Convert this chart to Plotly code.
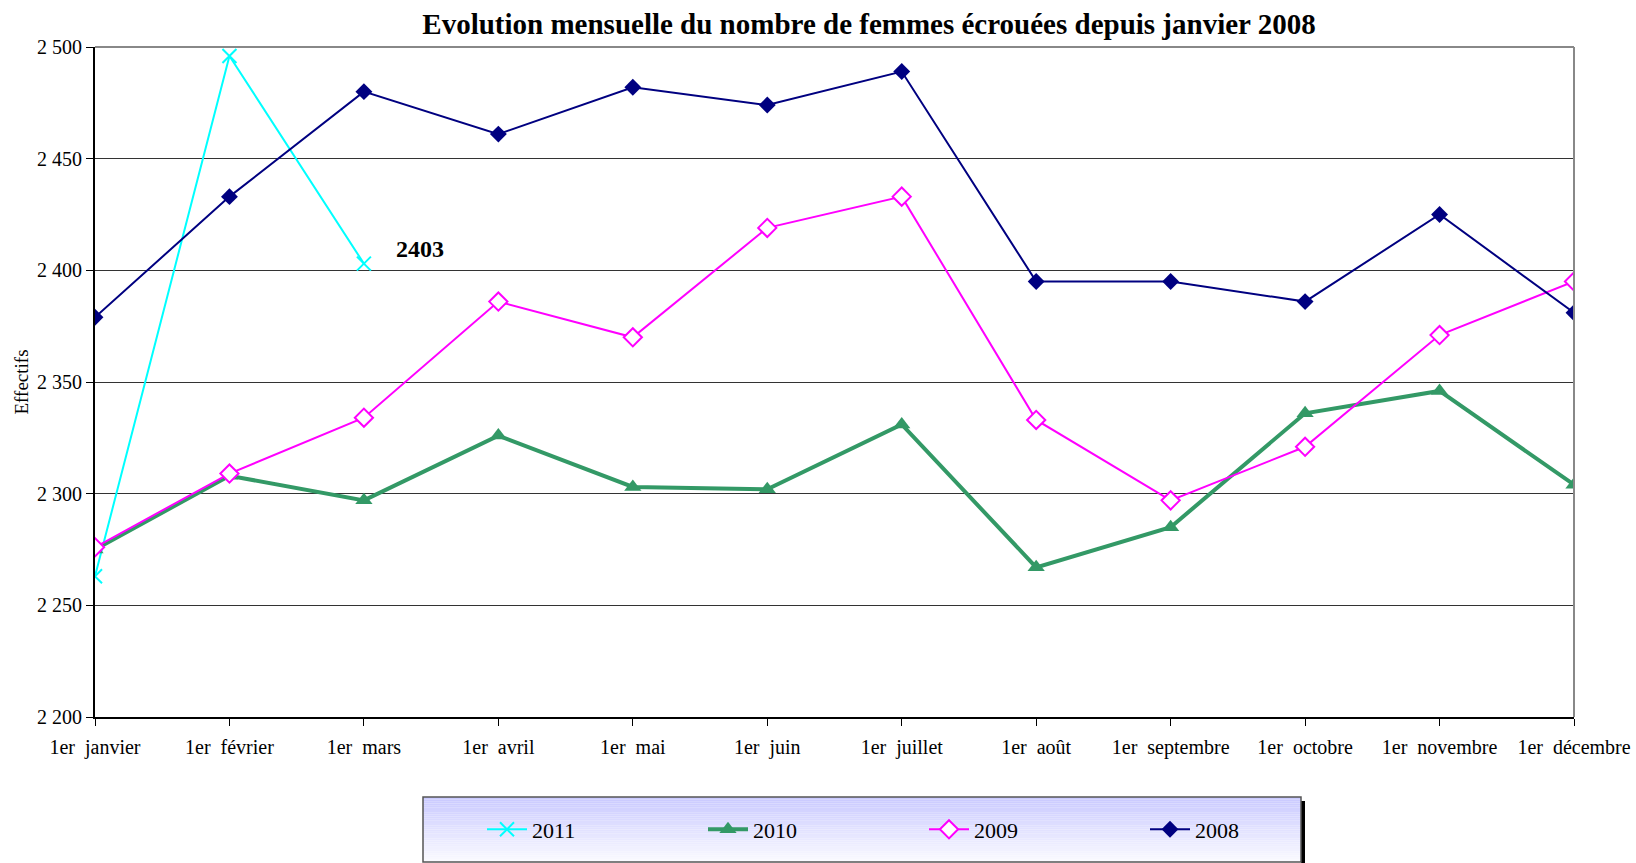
import plotly.graph_objects as go

months = ["1er\u00a0 janvier", "1er\u00a0 février", "1er\u00a0 mars", "1er\u00a0 avril", "1er\u00a0 mai",
          "1er\u00a0 juin", "1er\u00a0 juillet", "1er\u00a0 août", "1er\u00a0 septembre",
          "1er\u00a0 octobre", "1er\u00a0 novembre", "1er\u00a0 décembre"]
v2011 = [2263, 2496, 2403]
v2010 = [2275, 2308, 2297, 2326, 2303, 2302, 2331, 2267, 2285, 2336, 2346, 2304]
v2009 = [2276, 2309, 2334, 2386, 2370, 2419, 2433, 2333, 2297, 2321, 2371, 2395]
v2008 = [2379, 2433, 2480, 2461, 2482, 2474, 2489, 2395, 2395, 2386, 2425, 2381]
yticks = [2200, 2250, 2300, 2350, 2400, 2450, 2500]

FONT = "Liberation Serif, Times New Roman, serif"
L, R, T, B = 95, 62, 47, 146
PW = 1636 - L - R
PH = 863 - T - B

fig = go.Figure()
fig.add_trace(go.Scatter(x=months[:len(v2011)], y=v2011, name="2011", mode="lines+markers",
                         line=dict(color="#00FFFF", width=2),
                         marker=dict(symbol="x-thin", size=14, line=dict(color="#00FFFF", width=2))))
fig.add_trace(go.Scatter(x=months, y=v2010, name="2010", mode="lines+markers",
                         line=dict(color="#339966", width=4),
                         marker=dict(symbol="triangle-up", size=15, color="#339966")))
fig.add_trace(go.Scatter(x=months, y=v2009, name="2009", mode="lines+markers",
                         line=dict(color="#FF00FF", width=2),
                         marker=dict(symbol="diamond", size=14, color="white",
                                     line=dict(color="#FF00FF", width=2))))
fig.add_trace(go.Scatter(x=months, y=v2008, name="2008", mode="lines+markers",
                         line=dict(color="#000080", width=2),
                         marker=dict(symbol="diamond", size=13, color="#000080")))

def px(x):
    return (x - L) / PW

def py(y):
    return (863 - B - y) / PH

x0p, x1p = px(423), px(1301)
ytop, ybot = py(797), py(862)
shapes = []
shapes.append(dict(type="rect", xref="paper", yref="paper",
                   x0=x1p, x1=px(1305), y0=py(864), y1=py(801),
                   fillcolor="black", line=dict(width=0), layer="below"))
n = 30
for i in range(n):
    t = i / (n - 1)
    r = int(202 + (250 - 202) * t)
    g = int(202 + (250 - 202) * t)
    ya = ytop + (ybot - ytop) * i / n
    yb = ytop + (ybot - ytop) * (i + 1) / n
    shapes.append(dict(type="rect", xref="paper", yref="paper", x0=x0p, x1=x1p, y0=yb, y1=ya,
                       fillcolor=f"rgb({r},{g},255)", line=dict(width=0), layer="below"))
shapes.append(dict(type="rect", xref="paper", yref="paper", x0=x0p, x1=x1p, y0=ybot, y1=ytop,
                   line=dict(color="#555555", width=1.5), fillcolor="rgba(0,0,0,0)", layer="below"))
shapes.append(dict(type="line", xref="paper", yref="paper", x0=0, x1=1, y0=1, y1=1,
                   line=dict(color="#888888", width=2)))
shapes.append(dict(type="line", xref="paper", yref="paper", x0=1, x1=1, y0=0, y1=1,
                   line=dict(color="#888888", width=2)))

fig.update_layout(
    width=1636, height=863,
    margin=dict(l=L, r=R, t=T, b=B, autoexpand=False),
    paper_bgcolor="white", plot_bgcolor="white",
    separators=", ",
    font=dict(family=FONT, size=20, color="black"),
    title=dict(text="<b>Evolution mensuelle du nombre de femmes écrouées depuis janvier 2008</b>",
               x=(418 + 1320) / 2 / 1636, xanchor="center", y=1 - 24 / 863, yanchor="middle",
               font=dict(family=FONT, size=29, color="black")),
    xaxis=dict(type="category", categoryorder="array", categoryarray=months,
               range=[0, 11], showgrid=False, showline=True, linecolor="black", linewidth=2,
               ticks="outside", ticklen=7, tickcolor="black", tickwidth=1,
               ticklabelstandoff=4,
               tickfont=dict(family=FONT, size=20), zeroline=False),
    yaxis=dict(range=[2200, 2500], tickvals=yticks, tickformat=",d",
               showgrid=True, gridcolor="#333333", gridwidth=1,
               showline=True, linecolor="black", linewidth=2,
               ticks="outside", ticklen=7, tickcolor="black",
               tickfont=dict(family=FONT, size=20), zeroline=False,
               title=dict(text="Effectifs", font=dict(family=FONT, size=19), standoff=3)),
    legend=dict(orientation="h", x=px(482), xanchor="left", y=(ytop + ybot) / 2,
                yanchor="middle", entrywidth=166, bgcolor="rgba(0,0,0,0)",
                font=dict(family=FONT, size=22), itemwidth=40),
    shapes=shapes,
    showlegend=True,
)
fig.add_annotation(x="1er\u00a0 mars", y=2403, text="<b>2403</b>", showarrow=False,
                   xanchor="left", yanchor="bottom", xshift=30, yshift=0,
                   font=dict(family=FONT, size=24, color="black"))

fig.write_html("out.html", config={"displayModeBar": False},
               post_script="document.body.style.margin='0';")
